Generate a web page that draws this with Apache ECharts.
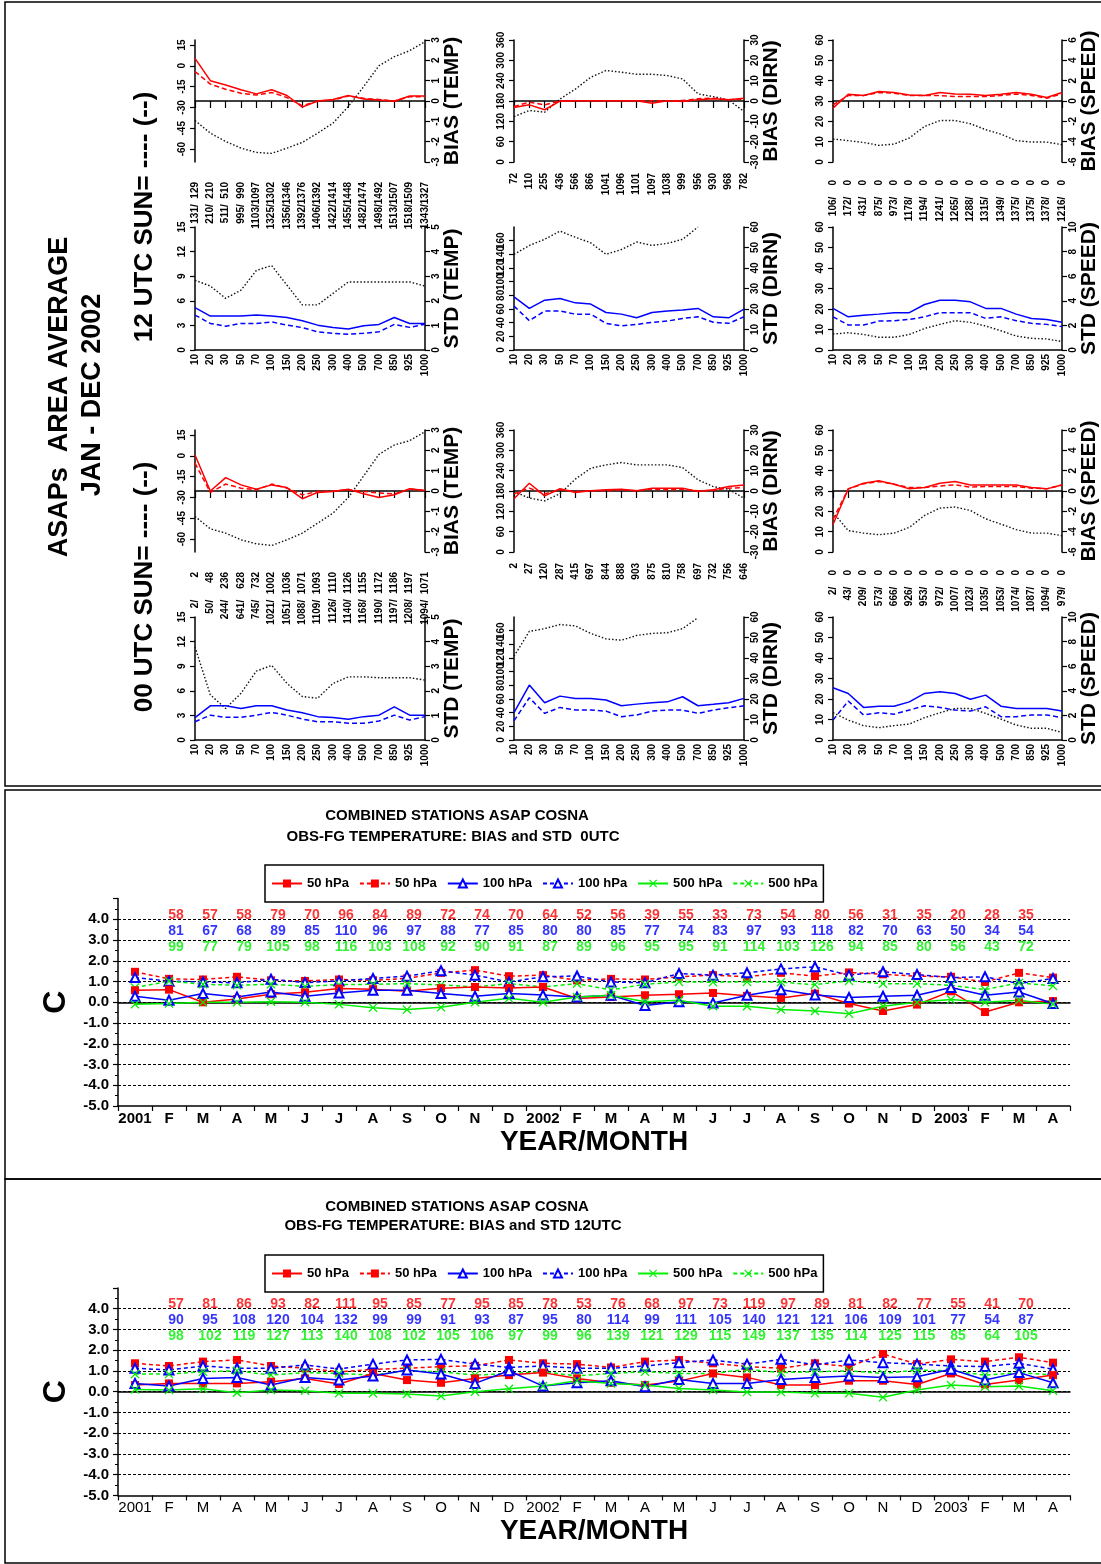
<!DOCTYPE html>
<html>
<head>
<meta charset="utf-8">
<script src="https://cdn.jsdelivr.net/npm/echarts@6/dist/echarts.min.js"></script>
<style>
  html, body { margin: 0; padding: 0; background: #fff; }
  #chart { width: 1101px; height: 1564px; }
</style>
</head>
<body>
<div id="chart"></div>
<script>
const FONT = '"Liberation Sans", Arial, sans-serif';

// pressure levels (hPa) used by the 12 profile panels
const levels = ['10', '20', '30', '50', '70', '100', '150', '200', '250', '300', '400', '500', '700', '850', '925', '1000'];

// ---- 12 UTC profiles (upper block) ----
const tempBias12 = [2.10, 1.00, 0.79, 0.55, 0.35, 0.55, 0.27, -0.30, 0.00, 0.07, 0.27, 0.10, 0.05, -0.01, 0.25, 0.25];
const tempBias12b = [1.45, 0.83, 0.58, 0.38, 0.29, 0.42, 0.17, -0.24, 0.00, 0.05, 0.25, 0.13, 0.07, 0.00, 0.21, 0.21];
const tempMean12 = [-39.4, -48.5, -54.5, -59.3, -62.4, -63.1, -59.3, -55.2, -48.5, -41.3, -29.3, -15.0, 0.1, 6.6, 10.9, 17.4];
const tempN12a = [131, 210, 511, 995, 1103, 1325, 1356, 1392, 1406, 1422, 1455, 1482, 1498, 1513, 1518, 1343];
const tempN12b = [129, 210, 510, 990, 1097, 1302, 1346, 1376, 1392, 1414, 1448, 1474, 1492, 1507, 1509, 1327];
const dirnBias12 = [-3.2, -1.9, -4.3, -0.1, 0.1, 0.1, 0.1, 0.1, 0.1, -1.1, 0.1, -0.2, 0.6, 1.1, 0.6, 1.4];
const dirnBias12b = [-2.7, -0.6, -1.9, 0.1, 0.1, 0.1, 0.1, 0.1, 0.1, 0.1, 0.1, 0.2, 1.1, 1.4, 0.6, 0.9];
const dirnMean12 = [134, 152, 147, 186, 215, 250, 270, 265, 259, 259, 255, 245, 201, 193, 183, 149];
const dirnN12 = [72, 110, 255, 436, 566, 866, 1041, 1096, 1101, 1097, 1038, 999, 956, 930, 968, 782];
const speedBias12 = [-0.70, 0.67, 0.54, 0.93, 0.83, 0.60, 0.54, 0.83, 0.70, 0.67, 0.54, 0.67, 0.83, 0.67, 0.34, 0.83];
const speedBias12b = [-0.38, 0.54, 0.54, 0.83, 0.77, 0.54, 0.54, 0.54, 0.44, 0.44, 0.44, 0.54, 0.70, 0.54, 0.28, 0.70];
const speedMean12 = [11.3, 10.5, 9.6, 8.2, 8.8, 11.8, 17.5, 20.4, 20.4, 18.8, 15.9, 13.7, 10.5, 9.8, 9.8, 8.5];
const speedN12 = [106, 172, 431, 875, 973, 1178, 1194, 1241, 1265, 1288, 1315, 1349, 1375, 1375, 1378, 1216];
const tempStd12 = [1.72, 1.38, 1.38, 1.38, 1.42, 1.38, 1.32, 1.19, 1.01, 0.91, 0.85, 0.99, 1.04, 1.32, 1.08, 1.08];
const tempStd12b = [1.42, 1.08, 0.97, 1.08, 1.08, 1.14, 1.01, 0.91, 0.74, 0.68, 0.64, 0.68, 0.74, 1.04, 0.92, 1.05];
const tempStdRef12 = [8.5, 7.8, 6.3, 7.3, 9.7, 10.3, 7.9, 5.5, 5.5, 6.9, 8.3, 8.3, 8.3, 8.3, 8.3, 7.8];
const dirnStd12 = [25.9, 20.3, 24.3, 25.1, 23.0, 22.4, 18.3, 17.5, 15.7, 18.3, 19.0, 19.5, 20.3, 16.2, 15.7, 19.9];
const dirnStd12b = [21.4, 14.3, 19.0, 19.0, 17.5, 17.5, 13.0, 11.8, 12.5, 13.5, 14.1, 15.4, 16.2, 13.5, 13.0, 16.2];
const dirnStdRef12 = [140, 153, 162, 174, 165, 157, 140, 147, 158, 153, 156, 162, 180, null, null, null];
const speedStd12 = [20.3, 16.2, 17.0, 17.5, 18.2, 18.2, 22.2, 24.3, 24.3, 23.5, 20.3, 20.3, 17.5, 15.4, 14.9, 13.5];
const speedStd12b = [16.2, 12.2, 12.2, 14.1, 14.3, 14.9, 16.2, 18.2, 18.2, 18.2, 15.4, 16.2, 14.3, 13.0, 12.5, 11.4];
const speedStdRef12 = [7.8, 8.4, 7.6, 6.2, 6.2, 7.6, 10.5, 12.5, 14.3, 13.5, 11.7, 9.4, 6.8, 5.7, 5.4, 4.1];

// ---- 00 UTC profiles (lower block) ----
const tempBias00 = [1.77, 0.00, 0.66, 0.30, 0.09, 0.30, 0.17, -0.38, -0.07, -0.02, 0.09, -0.14, -0.32, -0.19, 0.11, 0.03];
const tempBias00b = [1.37, -0.07, 0.34, 0.14, 0.06, 0.34, 0.14, -0.19, -0.02, 0.00, 0.06, -0.02, -0.10, -0.14, 0.09, 0.03];
const tempMean00 = [-43.7, -52.6, -55.7, -60.5, -63.4, -64.6, -60.5, -55.7, -48.5, -41.3, -30.0, -14.5, 1.1, 7.8, 10.9, 17.4];
const tempN00a = [2, 50, 244, 641, 745, 1021, 1051, 1088, 1109, 1126, 1140, 1168, 1190, 1197, 1208, 1094];
const tempN00b = [2, 48, 236, 628, 732, 1002, 1036, 1071, 1093, 1110, 1126, 1155, 1172, 1186, 1197, 1071];
const dirnBias00 = [-3.8, 3.8, -2.4, 1.1, -0.7, 0.1, 0.6, 0.9, 0.1, 1.4, 1.4, 1.4, -0.2, 0.6, 2.2, 3.0];
const dirnBias00b = [-1.4, 1.4, -1.4, 0.6, -0.2, 0.1, 0.1, 0.6, 0.1, 0.9, 0.6, 0.9, 0.1, 0.3, 1.4, 1.7];
const dirnMean00 = [178, 159, 151, 172, 215, 247, 257, 264, 257, 257, 257, 249, 213, 193, 185, 159];
const dirnN00 = [2, 27, 120, 287, 415, 697, 844, 888, 903, 875, 810, 758, 697, 732, 756, 646];
const speedBias00 = [-3.3, 0.21, 0.77, 1.00, 0.67, 0.21, 0.34, 0.77, 0.93, 0.60, 0.60, 0.60, 0.60, 0.34, 0.21, 0.60];
const speedBias00b = [-2.8, 0.21, 0.70, 0.93, 0.67, 0.34, 0.34, 0.50, 0.60, 0.38, 0.44, 0.44, 0.44, 0.28, 0.21, 0.60];
const speedMean00 = [19.5, 10.5, 9.3, 8.5, 9.3, 12.1, 18.0, 21.6, 22.1, 20.4, 16.3, 13.7, 11.0, 9.3, 9.3, 8.0];
const speedN00 = [2, 43, 209, 573, 666, 926, 953, 972, 1007, 1023, 1035, 1053, 1074, 1087, 1094, 979];
const tempStd00 = [0.91, 1.39, 1.39, 1.28, 1.39, 1.39, 1.22, 1.11, 0.95, 0.91, 0.84, 0.95, 1.01, 1.35, 1.01, 1.01];
const tempStd00b = [0.74, 1.01, 0.92, 0.92, 1.01, 1.12, 1.01, 0.85, 0.74, 0.74, 0.68, 0.68, 0.77, 1.01, 0.81, 0.95];
const tempStdRef00 = [11.35, 5.5, 3.85, 5.7, 8.4, 9.1, 6.9, 5.3, 5.1, 6.9, 7.7, 7.7, 7.6, 7.6, 7.6, 7.3];
const dirnStd00 = [13.3, 26.8, 18.2, 21.4, 20.3, 20.3, 19.5, 16.7, 17.5, 18.2, 18.6, 21.1, 16.7, 17.4, 18.2, 20.3];
const dirnStd00b = [9.4, 20.6, 13.0, 15.9, 14.6, 14.6, 14.1, 11.4, 12.2, 14.1, 14.6, 14.6, 13.0, 14.6, 15.7, 16.7];
const dirnStdRef00 = [122.6, 159, 163, 169, 167, 156, 148, 146, 153, 156, 157, 163, 179, null, null, null];
const speedStd00 = [25.5, 22.7, 15.9, 16.5, 16.5, 18.6, 22.7, 23.5, 22.7, 19.9, 21.9, 16.5, 15.4, 15.4, 15.4, 14.1];
const speedStd00b = [9.7, 19.0, 12.2, 13.3, 12.6, 14.6, 16.7, 15.9, 14.6, 14.1, 16.2, 11.4, 11.4, 12.2, 12.2, 10.9];
const speedStdRef00 = [13.3, 9.7, 7.0, 6.0, 7.0, 7.8, 10.9, 13.3, 15.4, 15.4, 13.0, 10.2, 7.3, 5.7, 5.7, 3.7];

// ---- monthly time series ----
const months = ['2001', 'F', 'M', 'A', 'M', 'J', 'J', 'A', 'S', 'O', 'N', 'D',
  '2002', 'F', 'M', 'A', 'M', 'J', 'J', 'A', 'S', 'O', 'N', 'D', '2003', 'F', 'M', 'A'];

// 0 UTC
const u00p50 = [0.58, 0.61, 0.00, 0.16, 0.39, 0.48, 0.66, 0.63, 0.53, 0.68, 0.74, 0.69, 0.74, 0.18, 0.26, 0.34, 0.39, 0.45, 0.31, 0.21, 0.42, -0.06, -0.42, -0.11, 0.53, -0.47, 0.00, 0.06];
const u00p50b = [1.47, 1.13, 1.10, 1.23, 1.06, 1.03, 1.10, 1.06, 1.15, 1.42, 1.55, 1.26, 1.31, 1.06, 1.13, 1.10, 1.23, 1.31, 1.23, 1.42, 1.26, 1.44, 1.35, 1.26, 1.23, 0.98, 1.42, 1.19];
const u00p100 = [0.29, 0.10, 0.42, 0.26, 0.50, 0.29, 0.45, 0.58, 0.58, 0.42, 0.29, 0.42, 0.35, 0.26, 0.34, -0.15, 0.03, -0.03, 0.34, 0.61, 0.35, 0.23, 0.29, 0.34, 0.71, 0.34, 0.50, -0.06];
const u00p100b = [1.19, 1.02, 0.98, 0.94, 1.11, 0.95, 1.03, 1.15, 1.26, 1.52, 1.31, 0.98, 1.23, 1.27, 0.98, 0.94, 1.39, 1.31, 1.42, 1.61, 1.71, 1.31, 1.47, 1.34, 1.19, 1.23, 0.90, 1.15];
const u00p500 = [-0.10, -0.06, 0.00, 0.00, 0.03, 0.00, -0.10, -0.26, -0.35, -0.24, 0.00, 0.19, 0.00, 0.26, 0.34, 0.03, 0.10, -0.19, -0.19, -0.35, -0.42, -0.55, -0.19, 0.00, 0.13, 0.00, 0.10, -0.10];
const u00p500b = [0.71, 1.02, 0.87, 0.82, 0.87, 0.77, 0.85, 0.87, 0.90, 0.84, 0.74, 0.90, 0.74, 0.90, 0.60, 0.87, 0.98, 0.97, 0.98, 0.97, 0.85, 1.03, 0.90, 0.90, 0.82, 0.61, 0.94, 0.79];
const n00p50 = [58, 57, 58, 79, 70, 96, 84, 89, 72, 74, 70, 64, 52, 56, 39, 55, 33, 73, 54, 80, 56, 31, 35, 20, 28, 35];
const n00p100 = [81, 67, 68, 89, 85, 110, 96, 97, 88, 77, 85, 80, 80, 85, 77, 74, 83, 97, 93, 118, 82, 70, 63, 50, 34, 54];
const n00p500 = [99, 77, 79, 105, 98, 116, 103, 108, 92, 90, 91, 87, 89, 96, 95, 95, 91, 114, 103, 126, 94, 85, 80, 56, 43, 72];

// 12 UTC
const u12p50 = [0.32, 0.40, 0.40, 0.40, 0.48, 0.64, 0.37, 0.88, 0.56, 0.43, 0.64, 0.80, 0.92, 0.64, 0.43, 0.32, 0.51, 0.88, 0.69, 0.32, 0.32, 0.53, 0.53, 0.35, 0.88, 0.35, 0.56, 0.80];
const u12p50b = [1.37, 1.24, 1.45, 1.53, 1.24, 1.13, 0.96, 1.08, 1.13, 1.21, 1.25, 1.53, 1.37, 1.33, 1.17, 1.45, 1.53, 1.37, 1.21, 1.13, 1.37, 1.21, 1.82, 1.33, 1.56, 1.45, 1.66, 1.40];
const u12p100 = [0.40, 0.27, 0.64, 0.68, 0.32, 0.68, 0.56, 0.76, 1.05, 0.85, 0.40, 1.01, 0.27, 0.43, 0.53, 0.24, 0.59, 0.40, 0.40, 0.59, 0.69, 0.76, 0.69, 0.72, 1.08, 0.56, 0.92, 0.43];
const u12p100b = [1.13, 1.05, 1.24, 1.13, 1.13, 1.29, 1.09, 1.33, 1.53, 1.56, 1.33, 1.17, 1.24, 1.13, 1.13, 1.24, 1.40, 1.53, 1.33, 1.56, 1.29, 1.53, 1.40, 1.33, 1.24, 1.21, 1.37, 1.08];
const u12p500 = [0.11, 0.08, 0.14, -0.05, 0.08, 0.05, -0.08, -0.08, -0.11, -0.21, 0.00, 0.14, 0.27, 0.53, 0.40, 0.32, 0.16, 0.08, -0.02, -0.02, -0.08, -0.08, -0.27, 0.08, 0.32, 0.24, 0.27, 0.05];
const u12p500b = [0.85, 0.85, 0.96, 1.01, 0.80, 0.92, 0.88, 0.80, 1.01, 0.96, 0.80, 0.88, 0.96, 0.76, 0.88, 0.96, 0.88, 0.88, 1.08, 0.92, 0.96, 1.01, 0.88, 1.04, 1.01, 0.80, 0.92, 0.80];
const n12p50 = [57, 81, 86, 93, 82, 111, 95, 85, 77, 95, 85, 78, 53, 76, 68, 97, 73, 119, 97, 89, 81, 82, 77, 55, 41, 70];
const n12p100 = [90, 95, 108, 120, 104, 132, 99, 99, 91, 93, 87, 95, 80, 114, 99, 111, 105, 140, 121, 121, 106, 109, 101, 77, 54, 87];
const n12p500 = [98, 102, 119, 127, 113, 140, 108, 102, 105, 106, 97, 99, 96, 139, 121, 129, 115, 149, 137, 135, 114, 125, 115, 85, 64, 105];

const RED = '#ff0000', BLUE = '#0000ff', GREEN = '#00ee00', BLACK = '#000';
const FIG = '\u2007';
const pad = (v, w) => String(v).padStart(w, FIG);

const grids = [], xAxes = [], yAxes = [], series = [];

function lbl(size, bold, extra) {
  return Object.assign({ color: BLACK, fontSize: size, fontWeight: bold ? 'bold' : 'normal', fontFamily: FONT }, extra || {});
}

function profileAxis(gi, pos, ax, name) {
  const a = {
    gridIndex: gi, type: 'value', position: pos, min: ax[0], max: ax[1],
    axisLine: { show: true, onZero: false, lineStyle: { color: BLACK, width: 1.5 } },
    axisTick: { show: true, length: 5, lineStyle: { color: BLACK, width: 1.2 } },
    axisLabel: lbl(10, true, { rotate: 90, margin: pos === 'left' ? 8 : 6 }),
    splitLine: { show: false }
  };
  if (ax[3]) {
    a.axisLabel.customValues = ax[3];
    a.axisTick.customValues = ax[3];
  } else {
    a.interval = ax[2];
  }
  Object.assign(a, {
    name: name, nameLocation: 'middle', nameRotate: 90, nameGap: 17,
    nameTextStyle: { color: BLACK, fontSize: 21, fontWeight: 'bold', fontFamily: FONT }
  });
  if (pos === 'left') { a.name = ''; }
  return a;
}

function dash(color) { return { color: color, width: 1.5, type: [5, 3] }; }
function solid(color) { return { color: color, width: 1.5, type: 'solid' }; }
const dotted = { color: '#111', width: 1.4, type: [1.5, 2] };

function panel(p) {
  const gi = grids.length;
  grids.push({ left: p.left, top: p.top, width: 230, height: p.bias ? 122 : 123 });
  const yl = yAxes.length;
  yAxes.push(profileAxis(gi, 'left', p.leftAx, ''));
  yAxes.push(profileAxis(gi, 'right', p.rightAx, p.name));
  const xi = xAxes.length;
  xAxes.push({
    gridIndex: gi, type: 'category', data: levels, boundaryGap: false,
    axisLine: p.bias
      ? { show: true, onZero: true, onZeroAxisIndex: yl + 1, lineStyle: { color: BLACK, width: 1.5 } }
      : { show: true, onZero: false, lineStyle: { color: BLACK, width: 1.5 } },
    axisTick: { show: !!p.bias, length: 7, interval: 0, lineStyle: { color: BLACK, width: 1.2 } },
    axisLabel: p.bias ? { show: false } : lbl(10, true, { rotate: 90, margin: 4, interval: 0 }),
    splitLine: { show: false }
  });
  if (p.counts) {
    xAxes.push({
      gridIndex: gi, type: 'category', data: p.counts, boundaryGap: false, position: 'bottom',
      axisLine: { show: false, onZero: false }, axisTick: { show: false },
      axisLabel: lbl(10, true, { rotate: 90, margin: p.countMargin, interval: 0 }),
      splitLine: { show: false }
    });
  }
  p.lines.forEach(function (l) {
    series.push({
      type: 'line', xAxisIndex: xi, yAxisIndex: yl + (l.right ? 1 : 0), data: l.data,
      symbol: 'none', showSymbol: false, lineStyle: l.style, silent: true, z: l.z || 2
    });
  });
}

const colLeft = [195, 514, 833];
const TEMP_BIAS_L = [-69.3, 18.6, 15, [-60, -45, -30, -15, 0, 15]];

function upperLower(rowTop, stdTop, d, tag) {
  // temperature
  panel({
    left: colLeft[0], top: rowTop, bias: true, name: 'BIAS (TEMP)',
    leftAx: TEMP_BIAS_L, rightAx: [-3, 3, 1],
    counts: d.tempA.map((a, i) => pad(a, 4) + '/' + pad(d.tempB[i], tag === '00' ? 5 : 4)), countMargin: 20,
    lines: [{ data: d.tempMean, style: dotted }, { data: d.tempBiasB, right: true, style: dash(RED) }, { data: d.tempBias, right: true, style: solid(RED), z: 3 }]
  });
  panel({
    left: colLeft[1], top: rowTop, bias: true, name: 'BIAS (DIRN)',
    leftAx: [0, 360, 60], rightAx: [-30, 30, 10],
    counts: d.dirnN.map(String), countMargin: 11,
    lines: [{ data: d.dirnMean, style: dotted }, { data: d.dirnBiasB, right: true, style: dash(RED) }, { data: d.dirnBias, right: true, style: solid(RED), z: 3 }]
  });
  panel({
    left: colLeft[2], top: rowTop, bias: true, name: 'BIAS (SPEED)',
    leftAx: [0, 60, 10], rightAx: [-6, 6, 2],
    counts: d.speedN.map(n => pad(n, 4) + '/' + FIG + FIG + '0'), countMargin: 18,
    lines: [{ data: d.speedMean, style: dotted }, { data: d.speedBiasB, right: true, style: dash(RED) }, { data: d.speedBias, right: true, style: solid(RED), z: 3 }]
  });
  panel({
    left: colLeft[0], top: stdTop, name: 'STD (TEMP)',
    leftAx: [0, 15, 3], rightAx: [0, 5, 1],
    lines: [{ data: d.tempStdRef, style: dotted }, { data: d.tempStdB, right: true, style: dash(BLUE) }, { data: d.tempStd, right: true, style: solid(BLUE), z: 3 }]
  });
  panel({
    left: colLeft[1], top: stdTop, name: 'STD (DIRN)',
    leftAx: [0, 180, 20], rightAx: [0, 60, 10],
    lines: [{ data: d.dirnStdRef, style: dotted }, { data: d.dirnStdB, right: true, style: dash(BLUE) }, { data: d.dirnStd, right: true, style: solid(BLUE), z: 3 }]
  });
  panel({
    left: colLeft[2], top: stdTop, name: 'STD (SPEED)',
    leftAx: [0, 60, 10], rightAx: [0, 10, 2],
    lines: [{ data: d.speedStdRef, style: dotted }, { data: d.speedStdB, style: dash(BLUE) }, { data: d.speedStd, style: solid(BLUE), z: 3 }]
  });
}

upperLower(40, 227, {
  tempBias: tempBias12, tempBiasB: tempBias12b, tempMean: tempMean12, tempA: tempN12a, tempB: tempN12b,
  dirnBias: dirnBias12, dirnBiasB: dirnBias12b, dirnMean: dirnMean12, dirnN: dirnN12,
  speedBias: speedBias12, speedBiasB: speedBias12b, speedMean: speedMean12, speedN: speedN12,
  tempStd: tempStd12, tempStdB: tempStd12b, tempStdRef: tempStdRef12,
  dirnStd: dirnStd12, dirnStdB: dirnStd12b, dirnStdRef: dirnStdRef12,
  speedStd: speedStd12, speedStdB: speedStd12b, speedStdRef: speedStdRef12
}, '12');
upperLower(430, 617, {
  tempBias: tempBias00, tempBiasB: tempBias00b, tempMean: tempMean00, tempA: tempN00a, tempB: tempN00b,
  dirnBias: dirnBias00, dirnBiasB: dirnBias00b, dirnMean: dirnMean00, dirnN: dirnN00,
  speedBias: speedBias00, speedBiasB: speedBias00b, speedMean: speedMean00, speedN: speedN00,
  tempStd: tempStd00, tempStdB: tempStd00b, tempStdRef: tempStdRef00,
  dirnStd: dirnStd00, dirnStdB: dirnStd00b, dirnStdRef: dirnStdRef00,
  speedStd: speedStd00, speedStdB: speedStd00b, speedStdRef: speedStdRef00
}, '00');

// ---- monthly panels ----
const XMARK = 'path://M0,1L1,0L5,4L9,0L10,1L6,5L10,9L9,10L5,6L1,10L0,9L4,5Z';
const seriesDefs = [
  { name: '50 hPa', color: RED, dashed: false, symbol: 'rect', size: 8 },
  { name: '50 hPa ', color: RED, dashed: true, symbol: 'rect', size: 8 },
  { name: '100 hPa', color: BLUE, dashed: false, symbol: 'emptyTriangle', size: 9 },
  { name: '100 hPa ', color: BLUE, dashed: true, symbol: 'emptyTriangle', size: 9 },
  { name: '500 hPa', color: GREEN, dashed: false, symbol: XMARK, size: 9 },
  { name: '500 hPa ', color: GREEN, dashed: true, symbol: XMARK, size: 9 }
];
const legends = [];

function monthPanel(top, lines, counts, boldX, legendTop) {
  const gi = grids.length;
  grids.push({ left: 118, top: top, width: 952, height: 207.4 });
  const yi = yAxes.length;
  yAxes.push({
    gridIndex: gi, type: 'value', min: -5, max: 5, interval: 1,
    axisLine: { show: true, onZero: false, lineStyle: { color: BLACK, width: 1.5 } },
    axisTick: { show: true, length: 5, lineStyle: { color: BLACK, width: 1.2 } },
    minorTick: { show: true, splitNumber: 2, length: 3, lineStyle: { color: BLACK, width: 1 } },
    axisLabel: lbl(15, true, { margin: 9, formatter: v => (v === 5 ? '' : v.toFixed(1)) }),
    splitLine: { show: true, showMaxLine: false, showMinLine: false, lineStyle: { color: BLACK, width: 1, type: [3, 2] } },
    name: 'C', nameLocation: 'middle', nameRotate: 90, nameGap: 42,
    nameTextStyle: { color: BLACK, fontSize: 32, fontWeight: 'bold', fontFamily: FONT }
  });
  const xi = xAxes.length;
  xAxes.push({
    gridIndex: gi, type: 'category', data: months, boundaryGap: true,
    axisLine: { show: true, onZero: false, lineStyle: { color: BLACK, width: 1.5 } },
    axisTick: { show: true, length: 5, interval: 0, lineStyle: { color: BLACK, width: 1.2 } },
    axisLabel: lbl(15, boldX, { margin: 5, interval: 0 }),
    name: 'YEAR/MONTH', nameLocation: 'middle', nameGap: 22,
    nameTextStyle: { color: BLACK, fontSize: 28, fontWeight: 'bold', fontFamily: FONT, verticalAlign: 'top' }
  });
  // solid zero line
  xAxes.push({
    gridIndex: gi, type: 'category', data: months, boundaryGap: true,
    axisLine: { show: true, onZero: true, onZeroAxisIndex: yi, lineStyle: { color: BLACK, width: 1.5 } },
    axisTick: { show: false }, axisLabel: { show: false }
  });
  seriesDefs.forEach(function (s, k) {
    series.push({
      type: 'line', name: s.name, xAxisIndex: xi, yAxisIndex: yi, data: lines[k],
      symbol: s.symbol, symbolSize: s.size, showSymbol: true,
      lineStyle: s.dashed ? { color: s.color, width: 1.5, type: [4, 3] } : { color: s.color, width: 1.5 },
      itemStyle: { color: s.color, borderWidth: s.symbol === 'emptyTriangle' ? 1.5 : 0 },
      z: s.dashed ? 3 : 4, silent: true
    });
  });
  const rowY = [4.21, 3.44, 2.68];
  const rowColor = [RED, BLUE, GREEN];
  counts.forEach(function (arr, r) {
    series.push({
      type: 'scatter', xAxisIndex: xi, yAxisIndex: yi, symbol: 'rect', symbolSize: 0, silent: true,
      data: arr.map((c, i) => [i + 1, rowY[r], c]),
      label: {
        show: true, position: 'inside', offset: [7, 0], formatter: p => String(p.value[2]),
        color: rowColor[r], fontSize: 14, fontWeight: 'bold', fontFamily: FONT
      },
      z: 5
    });
  });
  legends.push({
    left: 265, top: legendTop, orient: 'horizontal',
    data: seriesDefs.map(s => s.name),
    formatter: n => n.trim(),
    borderColor: BLACK, borderWidth: 1.5, padding: [12, 6, 12, 6],
    itemWidth: 30, itemHeight: 10, itemGap: 10,
    textStyle: { color: BLACK, fontSize: 13, fontWeight: 'bold', fontFamily: FONT },
    selectedMode: false
  });
}

monthPanel(898.6, [u00p50, u00p50b, u00p100, u00p100b, u00p500, u00p500b], [n00p50, n00p100, n00p500], true, 865);
monthPanel(1288, [u12p50, u12p50b, u12p100, u12p100b, u12p500, u12p500b], [n12p50, n12p100, n12p500], false, 1255);

function text(x, y, str, size, rot) {
  return {
    type: 'text', x: x, y: y, rotation: rot || 0, silent: true,
    style: { text: str, fill: BLACK, font: 'bold ' + size + 'px ' + FONT, align: 'center', verticalAlign: 'middle' }
  };
}
function box(y, h) {
  return { type: 'rect', silent: true, shape: { x: 5, y: y, width: 1110, height: h }, style: { fill: 'none', stroke: BLACK, lineWidth: 1.5 } };
}

const R = Math.PI / 2;
const graphic = [
  box(2, 784), box(790, 389), box(1179, 384),
  text(60, 397, 'ASAPs  AREA AVERAGE', 27, R),
  text(93, 395, 'JAN - DEC 2002', 27, R),
  text(145, 217, '12 UTC SUN= ---- (--)', 26, R),
  text(145, 587, '00 UTC SUN= ---- (--)', 26, R),
  text(457, 816, 'COMBINED STATIONS ASAP COSNA', 15),
  text(453, 837, 'OBS-FG TEMPERATURE: BIAS and STD  0UTC', 15),
  text(457, 1207, 'COMBINED STATIONS ASAP COSNA', 15),
  text(453, 1226, 'OBS-FG TEMPERATURE: BIAS and STD 12UTC', 15)
];

const chart = echarts.init(document.getElementById('chart'), null, { renderer: 'canvas' });
chart.setOption({
  animation: false,
  backgroundColor: '#fff',
  textStyle: { fontFamily: FONT },
  grid: grids,
  xAxis: xAxes,
  yAxis: yAxes,
  legend: legends,
  series: series,
  graphic: graphic
});
</script>
</body>
</html>
